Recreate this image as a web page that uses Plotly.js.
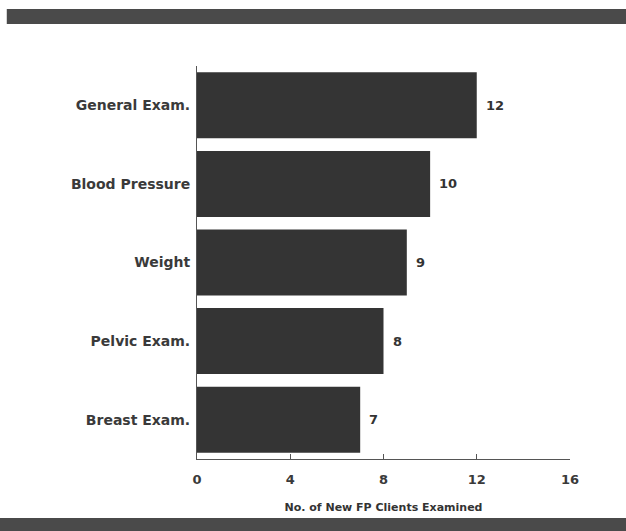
<!DOCTYPE html>
<html>
<head>
<meta charset="utf-8">
<script src="https://cdn.plot.ly/plotly-3.0.1.min.js"></script>
<style>
html,body{margin:0;padding:0;background:#fff;}
#chart{width:626px;height:531px;}
</style>
</head>
<body>
<div id="chart"></div>
<script>
var categories = ["General Exam.", "Blood Pressure", "Weight", "Pelvic Exam.", "Breast Exam."];
var values = [12, 10, 9, 8, 7];
var xTicks = [0, 4, 8, 12, 16];
var xTitle = "No. of New FP Clients Examined";

var FONT = "DejaVu Sans, Liberation Sans, Arial, sans-serif";

var trace = {
  type: "bar",
  orientation: "h",
  y: categories,
  x: values,
  marker: {color: "#343434", line: {width: 0}},
  hoverinfo: "none"
};

var valueLabels = categories.map(function (c, i) {
  return {
    x: values[i], y: c, xref: "x", yref: "y",
    text: String(values[i]), showarrow: false,
    xanchor: "left", xshift: 7,
    font: {family: FONT, size: 13, color: "#333", weight: "bold"}
  };
});

var layout = {
  width: 626,
  height: 531,
  margin: {l: 197, r: 56, t: 66, b: 72},
  paper_bgcolor: "#ffffff",
  plot_bgcolor: "#ffffff",
  showlegend: false,
  bargap: 0.16,
  font: {family: FONT, color: "#3a3a3a"},
  xaxis: {
    range: [0, 16],
    tickvals: xTicks,
    ticktext: xTicks.map(String),
    ticks: "inside",
    ticklen: 5,
    tickcolor: "#555",
    showline: true,
    linecolor: "#555",
    linewidth: 1,
    showgrid: false,
    zeroline: false,
    tickfont: {size: 13, color: "#3a3a3a", family: FONT, weight: "bold"},
    ticklabelstandoff: 8,
    title: {text: xTitle, font: {size: 11, color: "#333", family: FONT, weight: "bold"}, standoff: 17}
  },
  yaxis: {
    categoryorder: "array",
    categoryarray: categories.slice().reverse(),
    autorange: true,
    showline: true,
    linecolor: "#555",
    linewidth: 1,
    ticks: "",
    showgrid: false,
    zeroline: false,
    tickfont: {size: 14, color: "#3a3a3a", family: FONT, weight: "bold"},
    ticklabelstandoff: 3
  },
  annotations: valueLabels,
  shapes: [
    {type: "rect", xref: "paper", yref: "paper", x0: -0.51, x1: 1.16, y0: 1.107, y1: 1.145,
     fillcolor: "#4a4a4a", line: {width: 0}, layer: "below"},
    {type: "rect", xref: "paper", yref: "paper", x0: -0.53, x1: 1.16, y0: -0.15, y1: -0.2,
     fillcolor: "#4a4a4a", line: {width: 0}, layer: "below"}
  ]
};

Plotly.newPlot("chart", [trace], layout, {displayModeBar: false, staticPlot: true});
</script>
</body>
</html>
